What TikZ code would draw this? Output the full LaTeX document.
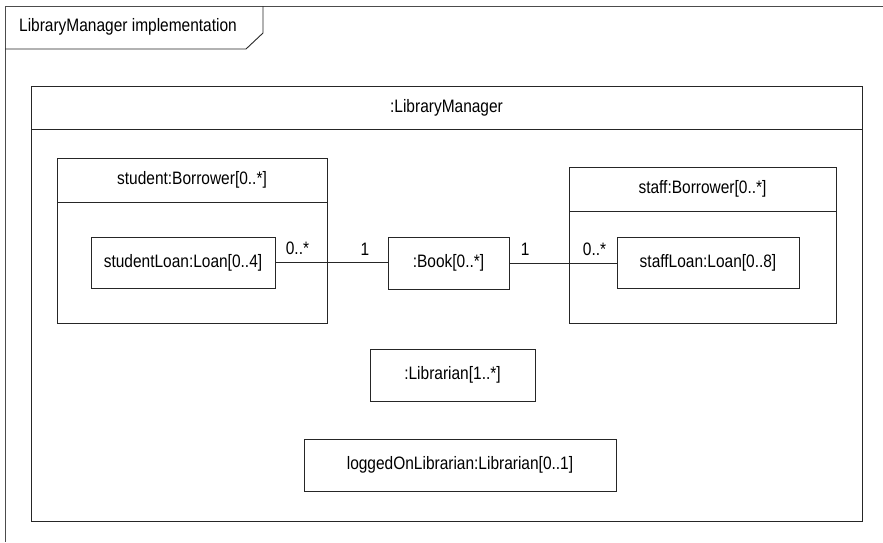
\documentclass[tikz,border=0pt]{standalone}
\usepackage{fontspec}
\setmainfont{Liberation Sans}[FakeStretch=0.86]
\usetikzlibrary{positioning}

\tikzset{
  obj/.style={draw=black!85, line width=0.9pt, inner sep=0pt, font=\fontsize{18}{21}\selectfont},
  mult/.style={inner sep=0pt, font=\fontsize{18}{21}\selectfont},
  link/.style={draw=black!85, line width=0.8pt}
}

\begin{document}
\begin{tikzpicture}[x=1pt, y=-1pt]
\useasboundingbox (0,0) rectangle (883,542);
% frame with its name tab
\draw [black!70, line width=0.9pt] (883,6) -- (5,6) -- (5,542);
\draw [black!85, line width=0.9pt] (263,6) -- (263,33) -- (246,49) -- (5,49);
\node (frametitle) at (128,27) [mult] {LibraryManager implementation};
% the structured class
\node (mgrhead) at (446.5,107.5) [obj, minimum width=831, minimum height=43] {:LibraryManager};
\node (mgrbody) at (446.5,325) [obj, minimum width=831, minimum height=392] {};
% student part
\node (stuhead) at (192,180) [obj, minimum width=270, minimum height=44] {student:Borrower[0..*]};
\node (stubody) at (192,262.5) [obj, minimum width=270, minimum height=121] {};
\node (stuloan) at (183,262.5) [obj, minimum width=184, minimum height=51] {studentLoan:Loan[0..4]};
% staff part
\node (staffhead) at (702.5,189) [obj, minimum width=267, minimum height=44] {staff:Borrower[0..*]};
\node (staffbody) at (702.5,267) [obj, minimum width=267, minimum height=112] {};
\node (staffloan) at (708,262.5) [obj, minimum width=182, minimum height=51] {staffLoan:Loan[0..8]};
% other parts
\node (book) at (448.5,263) [obj, minimum width=121, minimum height=52] {:Book[0..*]};
\node (librarian) at (452.5,375) [obj, minimum width=165, minimum height=52] {:Librarian[1..*]};
\node (loggedon) at (460,465) [obj, minimum width=312, minimum height=52] {loggedOnLibrarian:Librarian[0..1]};
% connectors
\draw [link] (stuloan.east) -- (stuloan.east -| book.west)
  node [mult, pos=0, anchor=south west, xshift=10pt, yshift=7pt] {0..*}
  node [mult, pos=1, anchor=south east, xshift=-18pt, yshift=7pt] {1};
\draw [link] (book.east) -- (book.east -| staffloan.west)
  node [mult, pos=0, anchor=south west, xshift=11pt, yshift=7pt] {1}
  node [mult, pos=1, anchor=south east, xshift=-10pt, yshift=7pt] {0..*};
\end{tikzpicture}
\end{document}
